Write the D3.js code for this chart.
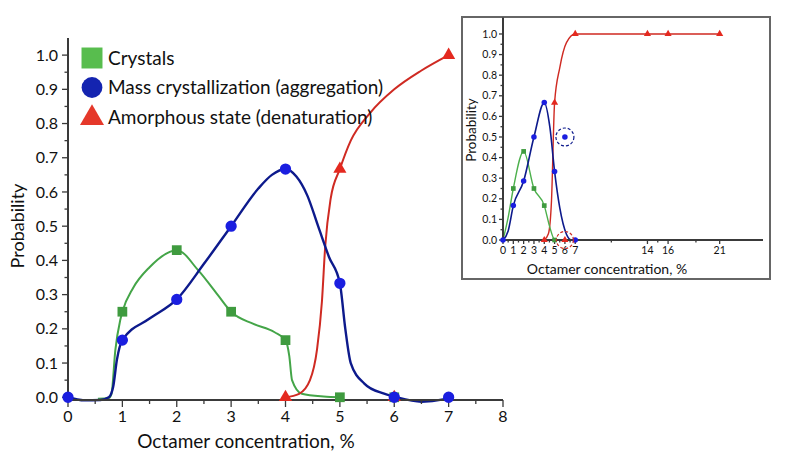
<!DOCTYPE html>
<html>
<head>
<meta charset="utf-8">
<script src="https://cdn.jsdelivr.net/npm/d3@7"></script>
<style>
  body { margin: 0; background: #fff; }
  svg { font-family: Lato, "Open Sans", sans-serif; }
  .axis path, .axis line { stroke: #3a3a3a; }
  .axis text { fill: #111; }
</style>
</head>
<body>
<svg id="chart" width="787" height="464"></svg>
<script>
//----------DATA----------

// main chart markers
var crystalsX = [1, 2, 3, 4, 5, 6];
var crystalsY = [0.25, 0.43, 0.25, 0.167, 0, 0];
var massX = [0, 1, 2, 3, 4, 5, 6, 7];
var massY = [0, 0.167, 0.286, 0.5, 0.667, 0.333, 0, 0];
var amorphX = [4, 5, 6, 7];
var amorphY = [0, 0.667, 0, 1.0];

// fitted lines
var crystalsLine = [[0.55, -0.004], [0.75, -0.002], [0.8, 0.01], [0.87, 0.137], [0.96, 0.225], [1, 0.25], [1.2, 0.32],
    [1.5, 0.38], [2, 0.43], [2.4, 0.37], [2.75, 0.3], [3, 0.25], [3.4, 0.215], [3.8, 0.19], [4, 0.167],
    [4.07, 0.12], [4.12, 0.05], [4.3, 0.01], [4.7, 0.002], [5, 0]];
var massLine = [[0, 0], [0.3, -0.009], [0.6, -0.008], [0.75, 0.0], [0.83, 0.03], [0.9, 0.11], [1, 0.167],
    [1.5, 0.23], [2, 0.286], [2.5, 0.39], [3, 0.5], [3.5, 0.61], [3.75, 0.65], [4, 0.667], [4.2, 0.645],
    [4.4, 0.59], [4.6, 0.5], [4.8, 0.41], [5, 0.333], [5.1, 0.2], [5.2, 0.1], [5.45, 0.04], [5.8, 0.011],
    [6, 0.002], [6.5, -0.013], [6.9, -0.006], [7, 0]];
var amorphLine = [[4, 0], [4.25, 0.01], [4.45, 0.05], [4.58, 0.14], [4.67, 0.28], [4.73, 0.44], [4.83, 0.58],
    [5, 0.667], [5.2, 0.75], [5.55, 0.83], [6, 0.9], [6.5, 0.955], [7, 1.0]];

var legendLabels = ['Crystals', 'Mass crystallization (aggregation)', 'Amorphous state (denaturation)'];
var xTicksMain = [0, 1, 2, 3, 4, 5, 6, 7, 8];

// inset markers
var inCrystalsX = [1, 2, 3, 4, 5];
var inCrystalsY = [0.25, 0.43, 0.25, 0.167, 0];
var inMassX = [0, 1, 2, 3, 4, 5, 6, 7];
var inMassY = [0, 0.167, 0.286, 0.5, 0.667, 0.333, 0.5, 0];
var inAmorphX = [4, 5, 6, 7, 14, 16, 21];
var inAmorphY = [0, 0.667, 0, 1.0, 1.0, 1.0, 1.0];

var inCrystalsLine = [[0, 0], [0.5, 0.11], [1, 0.25], [2, 0.43], [3, 0.25], [4, 0.167], [4.55, 0.06], [5, 0.003], [6.5, 0]];
var inMassLine = [[0, 0], [0.5, 0.044], [1, 0.167], [2, 0.286], [3, 0.5], [4, 0.667], [4.55, 0.545], [5, 0.333],
    [5.5, 0.157], [6.15, 0.028], [6.6, 0.001], [7, 0], [8.7, 0]];
var inAmorphLine = [[4, 0], [4.4, 0.03], [4.7, 0.19], [5, 0.667], [5.5, 0.836], [6.15, 0.958], [7, 1.0], [14, 1.0], [16, 1.0], [21, 1.0]];

var inXTicksLabeled = [0, 1, 2, 3, 4, 5, 6, 7, 14, 16, 21];
var inXTicksMinor = [0.5, 1.5, 2.5, 3.5, 4.5, 5.5, 6.5, 10.5, 15, 18.7];

var green = '#3f9b3f', greenLine = '#44a548';
var blue = '#1a1ee0', blueLine = '#0d1a8c';
var red = '#e4291f', redLine = '#cf2a22';

var svg = d3.select('#chart');

//----------HELPERS----------

function zip(xs, ys) {
    return xs.map(function(x, i) { return [x, ys[i]]; });
}

function drawYAxis(g, y, x0, major, minor, fontSize, labelPad) {
    var ax = g.append('g').attr('class', 'axis').attr('transform', 'translate(' + x0 + ',0)');
    ax.append('line').attr('y1', y.range()[0]).attr('y2', y.range()[1]).attr('stroke-width', 2);
    d3.range(0, 1.001, 0.05).forEach(function(v, i) {
        var isMajor = (i % 2 === 0);
        ax.append('line').attr('x1', isMajor ? -major : -minor).attr('x2', 0)
            .attr('y1', y(v)).attr('y2', y(v)).attr('stroke-width', 1.3);
        if (isMajor) {
            ax.append('text').attr('x', -major - labelPad).attr('y', y(v))
                .attr('dy', '0.35em').attr('text-anchor', 'end')
                .style('font-size', fontSize + 'px').text(d3.format('.1f')(v));
        }
    });
}

function drawXAxis(g, x, y0, labeled, minor, major, minorLen, fontSize, labelY) {
    var ax = g.append('g').attr('class', 'axis').attr('transform', 'translate(0,' + y0 + ')');
    ax.append('line').attr('x1', x.range()[0]).attr('x2', x.range()[1]).attr('stroke-width', 2);
    labeled.forEach(function(v) {
        ax.append('line').attr('x1', x(v)).attr('x2', x(v)).attr('y1', 0).attr('y2', major).attr('stroke-width', 1.3);
        ax.append('text').attr('x', x(v)).attr('y', labelY).attr('text-anchor', 'middle')
            .style('font-size', fontSize + 'px').text(v);
    });
    minor.forEach(function(v) {
        ax.append('line').attr('x1', x(v)).attr('x2', x(v)).attr('y1', 0).attr('y2', minorLen).attr('stroke-width', 1.3);
    });
}

function drawLine(g, pts, x, y, color, width) {
    g.append('path').datum(pts)
        .attr('fill', 'none').attr('stroke', color).attr('stroke-width', width)
        .attr('d', d3.line().x(function(d) { return x(d[0]); }).y(function(d) { return y(d[1]); })
            .curve(d3.curveMonotoneX));
}

function drawMarkers(g, pts, x, y, shape, size, color) {
    g.selectAll(null).data(pts).enter().append('path')
        .attr('transform', function(d) { return 'translate(' + x(d[0]) + ',' + y(d[1]) + ')'; })
        .attr('d', d3.symbol().type(shape).size(size))
        .attr('fill', color);
}

//----------MAIN CHART----------

var x = d3.scaleLinear().domain([0, 8]).range([68, 503]);
var y = d3.scaleLinear().domain([-0.008, 1.05]).range([400, 38]);
var main = svg.append('g');

drawLine(main, crystalsLine, x, y, greenLine, 2);
drawLine(main, amorphLine, x, y, redLine, 2);
drawLine(main, massLine, x, y, blueLine, 2.4);

drawYAxis(main, y, 68, 6, 3.5, 16, 4);
drawXAxis(main, x, 400, xTicksMain, d3.range(0.5, 8, 1), 7, 4, 16, 22);

drawMarkers(main, zip(crystalsX, crystalsY), x, y, d3.symbolSquare, 95, green);
drawMarkers(main, zip(amorphX, amorphY), x, y, d3.symbolTriangle, 75, red);
drawMarkers(main, zip(massX, massY), x, y, d3.symbolCircle, 100, blue);

main.append('text').attr('transform', 'translate(24,226) rotate(-90)')
    .attr('text-anchor', 'middle').style('font-size', '18px').attr('fill', '#111').text('Probability');
main.append('text').attr('x', 246).attr('y', 448)
    .attr('text-anchor', 'middle').style('font-size', '19px').attr('fill', '#111').text('Octamer concentration, %');

// legend
var legend = main.append('g');
var legendShapes = [d3.symbolSquare, d3.symbolCircle, d3.symbolTriangle];
var legendSizes = [440, 340, 250];
var legendColors = ['#58bd4e', '#1424b0', '#e5382a'];
legendLabels.forEach(function(lab, i) {
    var ly = 58 + i * 29.5;
    legend.append('path').attr('transform', 'translate(92,' + (ly + (i === 2 ? 1 : 0)) + ')')
        .attr('d', d3.symbol().type(legendShapes[i]).size(legendSizes[i]))
        .attr('fill', legendColors[i]);
    legend.append('text').attr('x', 108).attr('y', ly).attr('dy', '0.35em')
        .style('font-size', '19px').attr('fill', '#111').text(lab);
});

//----------INSET----------

var inset = svg.append('g');
inset.append('rect').attr('x', 462).attr('y', 17).attr('width', 308).attr('height', 262)
    .attr('fill', '#fff').attr('stroke', '#666').attr('stroke-width', 2);

var xi = d3.scaleLinear().domain([0, 25.2]).range([503, 763]);
var yi = d3.scaleLinear().domain([0, 1.08]).range([240, 17.5]);

drawLine(inset, inAmorphLine, xi, yi, redLine, 1.4);
drawLine(inset, inCrystalsLine, xi, yi, '#4cb04c', 1.4);
drawLine(inset, inMassLine, xi, yi, blueLine, 1.6);

drawYAxis(inset, yi, 503, 4, 2.5, 10.5, 2);
drawXAxis(inset, xi, 240, inXTicksLabeled, inXTicksMinor, 4, 2.5, 10.5, 14);

drawMarkers(inset, zip(inCrystalsX, inCrystalsY), xi, yi, d3.symbolSquare, 22, green);
drawMarkers(inset, zip(inAmorphX, inAmorphY), xi, yi, d3.symbolTriangle, 22, red);
drawMarkers(inset, zip(inMassX, inMassY), xi, yi, d3.symbolCircle, 24, blue);

// dashed rings round the outliers at 6 %
inset.append('circle').attr('cx', xi(6)).attr('cy', yi(0.5)).attr('r', 9)
    .attr('fill', 'none').attr('stroke', blueLine).attr('stroke-width', 1.2).attr('stroke-dasharray', '3,2');
inset.append('circle').attr('cx', xi(6)).attr('cy', yi(0)).attr('r', 8.5)
    .attr('fill', 'none').attr('stroke', redLine).attr('stroke-width', 1.2).attr('stroke-dasharray', '3,2');

inset.append('text').attr('transform', 'translate(476,130) rotate(-90)')
    .attr('text-anchor', 'middle').style('font-size', '13.5px').attr('fill', '#111').text('Probability');
inset.append('text').attr('x', 607).attr('y', 274)
    .attr('text-anchor', 'middle').style('font-size', '14px').attr('fill', '#111').text('Octamer concentration, %');
</script>
</body>
</html>
